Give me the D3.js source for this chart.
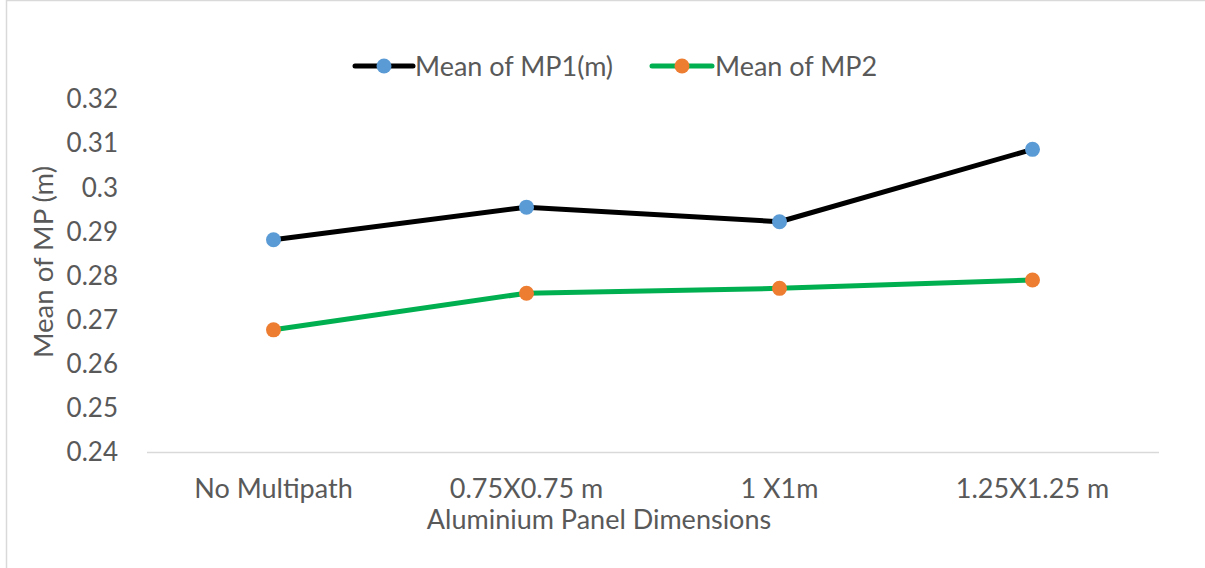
<!DOCTYPE html>
<html>
<head>
<meta charset="utf-8">
<script src="https://cdn.jsdelivr.net/npm/d3@7"></script>
<style>
  html, body { margin: 0; padding: 0; background: #ffffff; }
  svg { display: block; }
  text { font-family: Lato, "Open Sans", sans-serif; fill: #595959; }
</style>
</head>
<body>
<svg id="chart" width="1205" height="568"></svg>
<script>
const categories = ["No Multipath", "0.75X0.75 m", "1 X1m", "1.25X1.25 m"];
const mp1 = [0.2882, 0.2956, 0.2923, 0.3087];
const mp2 = [0.2678, 0.2761, 0.2772, 0.2791];
const yTicks = [0.24, 0.25, 0.26, 0.27, 0.28, 0.29, 0.3, 0.31, 0.32];
const seriesNames = ["Mean of MP1(m)", "Mean of MP2"];
const xTitle = "Aluminium Panel Dimensions";
const yTitle = "Mean of MP (m)";

const svg = d3.select("#chart");
const W = 1205, H = 568;
const plot = { left: 147, right: 1159, top: 99.5, bottom: 452.5 };
const FONT = "Lato, 'Open Sans', sans-serif";

// chart border
svg.append("rect")
  .attr("x", 6.5).attr("y", 0.5)
  .attr("width", W + 10).attr("height", H + 10)
  .attr("fill", "#fff").attr("stroke", "#d9d9d9").attr("stroke-width", 1.5);

const x = d3.scaleBand().domain(categories).range([plot.left, plot.right]);
const y = d3.scaleLinear().domain([0.24, 0.32]).range([plot.bottom, plot.top]);

// x axis line
svg.append("line")
  .attr("x1", plot.left).attr("x2", plot.right)
  .attr("y1", y(0.24)).attr("y2", y(0.24))
  .attr("stroke", "#d9d9d9").attr("stroke-width", 1.5);

// y axis labels
const yAxis = d3.axisLeft(y).tickValues(yTicks).tickSize(0).tickPadding(0)
  .tickFormat(d => String(+d.toFixed(2)));
const yg = svg.append("g").attr("transform", `translate(118,0)`).call(yAxis);
yg.select(".domain").remove();
yg.selectAll("text").style("font-size", "26px").attr("fill", "#595959")
  .style("font-family", FONT);

// x axis labels
const xAxis = d3.axisBottom(x).tickSize(0).tickPadding(0);
const xg = svg.append("g").attr("transform", `translate(0,479)`).call(xAxis);
xg.select(".domain").remove();
xg.selectAll("text").style("font-size", "27px").attr("fill", "#595959")
  .style("font-family", FONT);

// axis titles
svg.append("text")
  .attr("x", 599).attr("y", 529)
  .attr("text-anchor", "middle")
  .style("font-size", "27px")
  .text(xTitle);

svg.append("text")
  .attr("transform", `translate(53,262) rotate(-90)`)
  .attr("text-anchor", "middle")
  .style("font-size", "27.5px")
  .text(yTitle);

// lines
const line = d3.line()
  .x((d, i) => x(categories[i]) + x.bandwidth() / 2)
  .y(d => y(d));

const series = [
  { name: seriesNames[0], values: mp1, stroke: "#000000", marker: "#5b9bd5" },
  { name: seriesNames[1], values: mp2, stroke: "#00b050", marker: "#ed7d31" }
];

series.forEach(s => {
  svg.append("path")
    .datum(s.values)
    .attr("d", line)
    .attr("fill", "none")
    .attr("stroke", s.stroke)
    .attr("stroke-width", 5)
    .attr("stroke-linejoin", "round");
  svg.selectAll(null)
    .data(s.values)
    .enter().append("circle")
    .attr("cx", (d, i) => x(categories[i]) + x.bandwidth() / 2)
    .attr("cy", d => y(d))
    .attr("r", 7.5)
    .attr("fill", s.marker);
});

// legend
const legendItems = [
  { x0: 355, x1: 413, tx: 415 },
  { x0: 652, x1: 712, tx: 715 }
];
series.forEach((s, i) => {
  const L = legendItems[i];
  const ly = 66;
  svg.append("line")
    .attr("x1", L.x0).attr("x2", L.x1).attr("y1", ly).attr("y2", ly)
    .attr("stroke", s.stroke).attr("stroke-width", 5).attr("stroke-linecap", "round");
  svg.append("circle")
    .attr("cx", (L.x0 + L.x1) / 2).attr("cy", ly).attr("r", 7.5).attr("fill", s.marker);
  svg.append("text")
    .attr("x", L.tx).attr("y", ly).attr("dy", "0.36em")
    .style("font-size", "27px")
    .text(s.name);
});
</script>
</body>
</html>
